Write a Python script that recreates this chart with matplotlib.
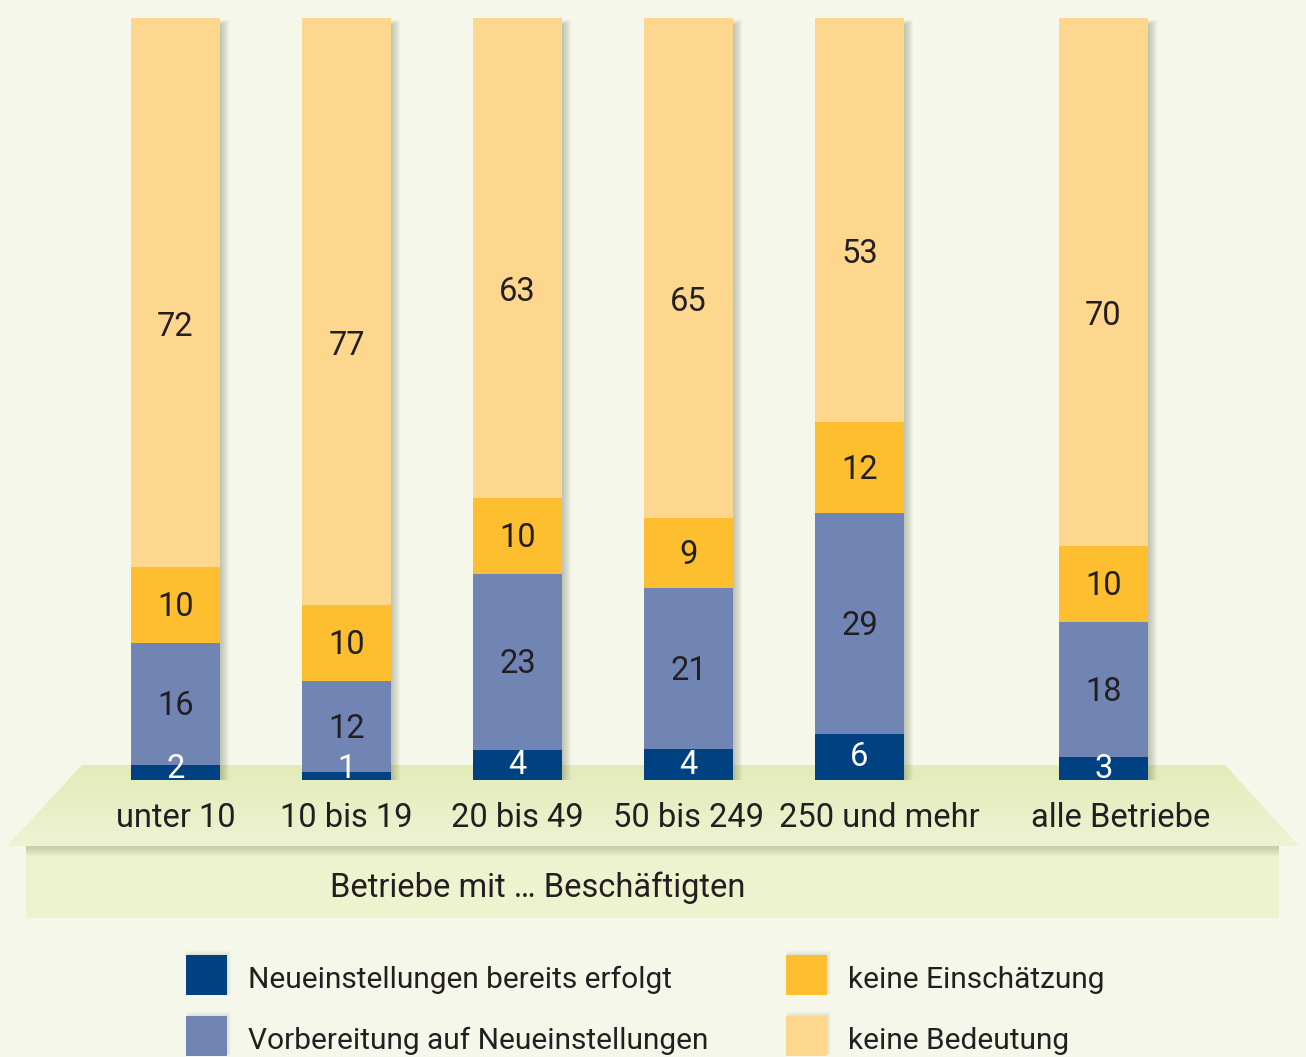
import numpy as np
import matplotlib
matplotlib.use("Agg")
import matplotlib.pyplot as plt
from matplotlib.patches import Polygon, Rectangle
from matplotlib.colors import LinearSegmentedColormap

# ---- data ----
categories = ["unter 10", "10 bis 19", "20 bis 49", "50 bis 249", "250 und mehr", "alle Betriebe"]
series_names = ["Neueinstellungen bereits erfolgt", "Vorbereitung auf Neueinstellungen",
                "keine Einschätzung", "keine Bedeutung"]
erfolgt = [2, 1, 4, 4, 6, 3]
vorbereitung = [16, 12, 23, 21, 29, 18]
keine_einschaetzung = [10, 10, 10, 9, 12, 10]
keine_bedeutung = [72, 77, 63, 65, 53, 70]
axis_title = "Betriebe mit … Beschäftigten"

colors = ["#004182", "#7185b4", "#fdbe2f", "#fed78e"]
BG = "#f5f7ea"
TXT = "#231f20"
FONT = ["Roboto", "DejaVu Sans"]
plt.rcParams["font.family"] = FONT

W, H = 1306, 1057
fig = plt.figure(figsize=(W / 100, H / 100), dpi=100)
fig.patch.set_facecolor(BG)

# background / decoration axes in pixel coordinates
bg = fig.add_axes([0, 0, 1, 1], zorder=0)
bg.set_xlim(0, W)
bg.set_ylim(H, 0)
bg.axis("off")

# lower band
bg.add_patch(Rectangle((26, 846), 1253, 72, facecolor="#eef3cf", lw=0, zorder=0.5))
for k in range(8):
    bg.add_patch(Rectangle((26, 846), 1253, 10 - k, facecolor="#8d9478", alpha=0.05, lw=0, zorder=0.6))
# trapezoid with gradient
trap = Polygon([(82, 765), (1225, 765), (1299, 846), (7, 846)], closed=True,
               facecolor="none", lw=0)
bg.add_patch(trap)
grad = np.linspace(0, 1, 100).reshape(-1, 1)
cmap = LinearSegmentedColormap.from_list("plat", ["#e3ebb8", "#eef3d3"])
im = bg.imshow(grad, extent=(0, W, 846, 765), cmap=cmap, aspect="auto", zorder=1)
im.set_clip_path(trap)
bg.set_xlim(0, W)
bg.set_ylim(H, 0)

# ---- main bar axes ----
px_unit = 171.0
x0 = 175.5
ax_bottom = (H - 780) / H
ax_top = (H - 18) / H
ax = fig.add_axes([0, ax_bottom, 1, ax_top - ax_bottom], zorder=2)
ax.set_facecolor("none")
ax.set_xlim(-x0 / px_unit, (W - x0) / px_unit)
ax.set_ylim(0, 100)
ax.axis("off")

xpos = np.array([0, 1, 2, 3, 4, 5.427])
width = 89 / px_unit

data = np.array([erfolgt, vorbereitung, keine_einschaetzung, keine_bedeutung], dtype=float)
totals = data.sum(axis=0)
heights = data / totals * 100

# shadows
for k in range(9):
    off = (1 + k) / px_unit
    ax.bar(xpos + off * 0.5, 100 + (1 + k) * 0.08, width=width + off, bottom=-1,
           color="#5f6650", alpha=0.045, lw=0, zorder=1)

bottom = np.zeros(len(categories))
for i, (h, c) in enumerate(zip(heights, colors)):
    ax.bar(xpos, h, width=width, bottom=bottom, color=c, lw=0, zorder=3,
           label=series_names[i])
    for j in range(len(categories)):
        val = int(data[i, j])
        if i == 0:
            y = bottom[j] + max(h[j] / 2, 1.5)
            tc = "white"
        elif i == 3:
            y = bottom[j] + h[j] / 2 - 4.5
            tc = TXT
        else:
            y = bottom[j] + h[j] / 2 - 0.3
            tc = TXT
        ax.text(xpos[j], y, str(val), ha="center", va="center", fontsize=23.5,
                color=tc, zorder=5)
    bottom += h

# category labels
label_dx = [0, 0, 0, 0, 20, 17]
for j, cat in enumerate(categories):
    bg.text(x0 + xpos[j] * px_unit + label_dx[j], 818, cat, ha="center", va="center",
            fontsize=23.5, color=TXT, zorder=3)

bg.text(538, 888, axis_title, ha="center", va="center", fontsize=23.5, color=TXT, zorder=3)

# legend
leg_pos = [(186, 955), (186, 1016), (786, 955), (786, 1016)]
for (lx, ly), c, name in zip(leg_pos, colors, series_names):
    for k in range(4):
        bg.add_patch(Rectangle((lx + 1, ly - 1 - k), 41 + k, 40 + k, facecolor="#6e7560",
                               alpha=0.04, lw=0, zorder=2))
    bg.add_patch(Rectangle((lx, ly), 41, 40, facecolor=c, lw=0, zorder=3))
    bg.text(lx + 62, ly + 25, name, ha="left", va="center", fontsize=21.5,
            color=TXT, zorder=3)

fig.savefig("out.png", dpi=100, facecolor=BG)
